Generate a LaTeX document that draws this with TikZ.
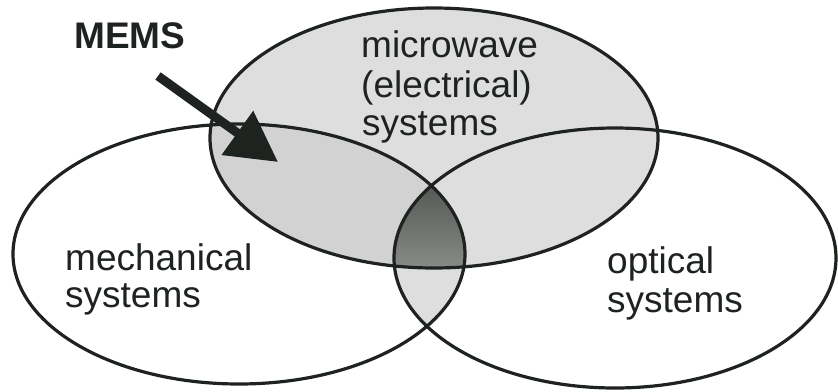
\documentclass[tikz,border=0pt]{standalone}
\usepackage{fontspec}
\setmainfont{Liberation Sans}
\usetikzlibrary{arrows.meta}
\definecolor{lightfill}{HTML}{DEDEDE}
\definecolor{memsfill}{HTML}{D2D2D2}
\definecolor{coretop}{HTML}{555855}
\definecolor{corebottom}{HTML}{8A8C8A}
\definecolor{inkcol}{HTML}{1E2320}
\tikzset{
  outline/.style={draw=inkcol, line width=3.2pt},
  lbl/.style={anchor=base west, inner sep=0pt, text=inkcol, font=\fontsize{37}{39}\selectfont},
  memslbl/.style={anchor=base west, inner sep=0pt, text=inkcol, font=\fontsize{37}{39}\selectfont\bfseries},
  bigarrow/.style={draw=inkcol, line width=9pt, -{Triangle[length=50pt,width=52pt]}}
}
\begin{document}
\begin{tikzpicture}[x=1pt,y=-1pt]
\useasboundingbox (0,0) rectangle (838,391);
\fill[white] (0,0) rectangle (838,391);
\def\topE{(434,138) ellipse [x radius=224, y radius=130]}
\def\leftE{(239,254) ellipse [x radius=226, y radius=130]}
\def\rightE{(615,258) ellipse [x radius=221, y radius=130]}
% fills
\fill[lightfill] \topE;
\begin{scope}
  \clip \leftE;
  \fill[memsfill] \topE;
  \fill[lightfill] \rightE;
  \clip \rightE;
  \clip \topE;
  \shade[top color=coretop, bottom color=corebottom] (390,185) rectangle (470,270);
\end{scope}
% outlines
\draw[outline] \topE;
\draw[outline] \leftE;
\draw[outline] \rightE;
% labels
\node[memslbl] (mems) at (74,48) {MEMS};
\node[lbl] (mw1) at (361,57) {microwave};
\node[lbl] (mw2) at (361,97) {(electrical)};
\node[lbl] (mw3) at (362,135) {systems};
\node[lbl] (me1) at (65,270) {mechanical};
\node[lbl] (me2) at (65,307) {systems};
\node[lbl] (op1) at (607,273) {optical};
\node[lbl] (op2) at (607,312) {systems};
% arrow
\coordinate (astart) at (158,76);
\coordinate (atip) at (278,162);
\draw[bigarrow] (astart) -- (atip);
\end{tikzpicture}
\end{document}
